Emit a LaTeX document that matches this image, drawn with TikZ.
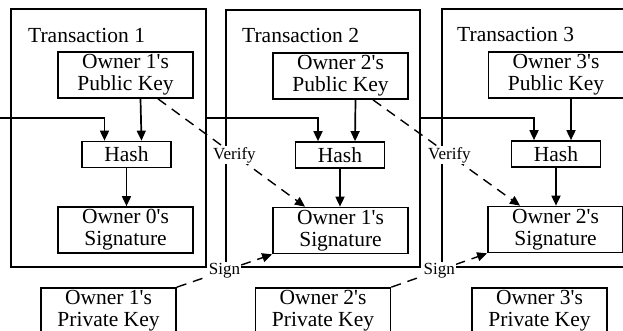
\documentclass[tikz,border=0pt]{standalone}
\usepackage{fontspec}
\setmainfont{Liberation Serif}
\usetikzlibrary{arrows.meta,calc}
\newcommand{\ap}{\textquotesingle}
\begin{document}
\begin{tikzpicture}[x=1pt,y=-1pt,
  frame/.style={draw, line width=1.9pt, inner sep=0pt},
  box/.style={draw, line width=1.7pt, minimum width=135pt, minimum height=46pt,
    align=center, inner sep=0pt, font=\fontsize{21.5}{22}\selectfont},
  hashbox/.style={box, minimum width=89pt, minimum height=26pt},
  title/.style={anchor=base west, inner sep=0pt, font=\fontsize{21.5}{22}\selectfont},
  arr/.style={line width=1.7pt, -{Triangle[length=10pt,width=9pt]}},
  dsh/.style={line width=1.4pt, dash pattern=on 10pt off 7pt, -{Triangle[length=10pt,width=9pt]}},
  lbl/.style={fill=white, inner sep=1pt, font=\fontsize{17}{17}\selectfont}]

\clip (0,0) rectangle (623,330);

% transaction frames
\node[frame, minimum width=195pt, minimum height=258pt] (t1) at (108.5,138) {};
\node[frame, minimum width=194pt, minimum height=257pt] (t2) at (323,138.5) {};
\node[frame, minimum width=218pt, minimum height=258pt] (t3) at (551,138) {};

\node[title] (ttl1) at (28,42) {Transaction 1};
\node[title] (ttl2) at (242,42) {Transaction 2};
\node[title] (ttl3) at (457,41) {Transaction 3};

% public keys
\node[box] (pk1) at (125.5,75) {Owner 1\ap s\\Public Key};
\node[box] (pk2) at (340.5,76) {Owner 2\ap s\\Public Key};
\node[box] (pk3) at (556,75) {Owner 3\ap s\\Public Key};

% hashes
\node[hashbox] (h1) at (126.5,154.5) {Hash};
\node[hashbox] (h2) at (340,155) {Hash};
\node[hashbox] (h3) at (556,154) {Hash};

% signatures
\node[box] (s1) at (125.5,230) {Owner 0\ap s\\Signature};
\node[box] (s2) at (340.5,230.5) {Owner 1\ap s\\Signature};
\node[box] (s3) at (555.5,229.5) {Owner 2\ap s\\Signature};

% private keys
\node[box] (k1) at (108.5,311) {Owner 1\ap s\\Private Key};
\node[box] (k2) at (323,311) {Owner 2\ap s\\Private Key};
\node[box] (k3) at (539.5,311) {Owner 3\ap s\\Private Key};

% chaining inputs
\coordinate (in1) at (0,118);
\draw[arr] (in1) -| ([xshift=-22pt]h1.north);
\draw[arr] (t1.east |- in1) -| ([xshift=-22pt]h2.north);
\draw[arr] (t2.east |- in1) -| ([xshift=-22pt]h3.north);

% public key -> hash
\draw[arr] ([xshift=15pt]pk1.south) -- ([xshift=15pt]h1.north);
\draw[arr] ([xshift=15pt]pk2.south) -- ([xshift=15pt]h2.north);
\draw[arr] ([xshift=15pt]pk3.south) -- ([xshift=15pt]h3.north);

% hash -> signature
\draw[arr] (h1.south) -- (h1.south |- s1.north);
\draw[arr] (h2.south) -- (h2.south |- s2.north);
\draw[arr] (h3.south) -- (h3.south |- s3.north);

% verify
\draw[dsh] ([xshift=32.5pt]pk1.south) -- node[lbl, pos=0.52] (v1) {Verify} ([xshift=-35.5pt]s2.north);
\draw[dsh] ([xshift=32.5pt]pk2.south) -- node[lbl, pos=0.52] (v2) {Verify} ([xshift=-35.5pt]s3.north);

% sign
\draw[dsh] (k1.north east) -- node[lbl, pos=0.5] (g1) {Sign} (s2.south west);
\draw[dsh] (k2.north east) -- node[lbl, pos=0.5] (g2) {Sign} (s3.south west);
\end{tikzpicture}
\end{document}
